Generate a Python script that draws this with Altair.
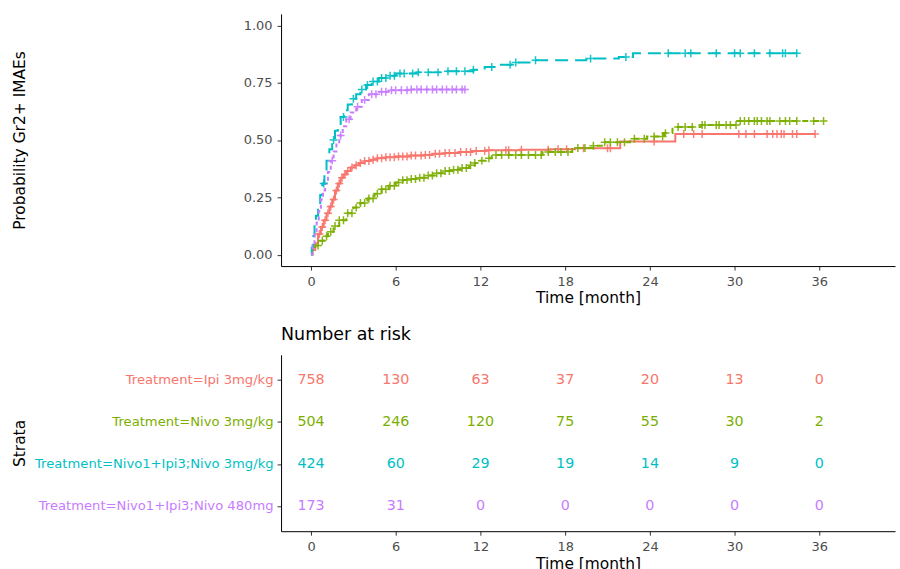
import altair as alt
import numpy as np
import pandas as pd

# Treatment groups, in plotting / table order
strata = [
    "Treatment=Ipi 3mg/kg",
    "Treatment=Nivo 3mg/kg",
    "Treatment=Nivo1+Ipi3;Nivo 3mg/kg",
    "Treatment=Nivo1+Ipi3;Nivo 480mg",
]
colors = ["#F8766D", "#7CAE00", "#00BFC4", "#C77CFF"]
dashes = [[1, 0], [6, 5], [13, 7], [4, 3]]

# Cumulative incidence steps (month, probability) per group
ipi_t = [0, 0.1, 0.3, 0.5, 0.7, 0.9, 1.1, 1.3, 1.5, 1.7, 1.9, 2.1, 2.3, 2.5, 2.8, 3.1, 3.4,
         3.8, 4.2, 4.7, 5.3, 6.0, 7.0, 8.0, 8.6, 9.5, 10.5, 11.4, 12.4, 14.8, 16.9, 18.7, 21.9, 25.8]
ipi_p = [0, 0.02, 0.05, 0.09, 0.12, 0.15, 0.18, 0.21, 0.24, 0.28, 0.31, 0.335, 0.35, 0.365, 0.38,
         0.39, 0.40, 0.408, 0.414, 0.42, 0.425, 0.428, 0.432, 0.435, 0.44, 0.443, 0.448, 0.452,
         0.455, 0.457, 0.46, 0.464, 0.493, 0.526]

nivo_t = [0, 0.1, 0.3, 0.6, 0.9, 1.2, 1.6, 2.0, 2.5, 3.0, 3.5, 4.0, 4.5, 5.0, 5.5, 6.0, 6.5, 7.0,
          7.6, 8.2, 8.8, 9.4, 10.0, 10.6, 11.2, 11.6, 12.0, 12.4, 12.8, 16.4, 18.5, 20.0, 20.6,
          22.6, 23.8, 25.0, 25.6, 27.6, 30.2]
nivo_p = [0, 0.02, 0.04, 0.06, 0.08, 0.10, 0.125, 0.15, 0.18, 0.205, 0.225, 0.245, 0.265, 0.285,
          0.30, 0.315, 0.325, 0.33, 0.335, 0.345, 0.355, 0.365, 0.37, 0.378, 0.39, 0.40, 0.41,
          0.42, 0.435, 0.448, 0.465, 0.475, 0.49, 0.505, 0.515, 0.53, 0.557, 0.565, 0.583]

combo3_t = [0, 0.05, 0.15, 0.25, 0.35, 0.5, 0.65, 0.8, 0.95, 1.1, 1.3, 1.5, 1.7, 1.9, 2.1, 2.35,
            2.6, 2.9, 3.2, 3.5, 3.9, 4.3, 4.8, 5.4, 6.0, 7.5, 9.5, 11.5, 12.3, 13.2, 14.2, 15.8,
            19.5, 21.8, 22.8]
combo3_p = [0, 0.03, 0.08, 0.13, 0.17, 0.22, 0.26, 0.31, 0.36, 0.41, 0.46, 0.50, 0.54, 0.57,
            0.60, 0.63, 0.655, 0.68, 0.70, 0.72, 0.74, 0.755, 0.77, 0.78, 0.79, 0.795, 0.80,
            0.806, 0.818, 0.828, 0.838, 0.848, 0.855, 0.862, 0.878]

combo480_t = [0, 0.1, 0.25, 0.4, 0.55, 0.7, 0.85, 1.0, 1.2, 1.4, 1.6, 1.8, 2.0, 2.25, 2.5, 2.8,
              3.2, 3.6, 4.1, 4.8, 5.6, 7.0]
combo480_p = [0, 0.04, 0.09, 0.14, 0.19, 0.24, 0.28, 0.31, 0.36, 0.41, 0.45, 0.49, 0.52, 0.56,
              0.59, 0.62, 0.645, 0.675, 0.70, 0.71, 0.717, 0.72]

# Censoring times (month) per group
ipi_cens = [0.6, 0.8, 1.0, 1.2, 1.4, 1.6, 1.8, 2.0, 2.2, 2.4, 2.6, 2.9, 3.2, 3.5, 3.8, 4.1, 4.4,
            4.7, 5.0, 5.3, 5.6, 5.9, 6.2, 6.5, 6.8, 7.1, 7.4, 7.8, 8.1, 8.4, 8.8, 9.1, 9.5, 9.8,
            10.2, 10.6, 11.0, 11.3, 11.7, 12.3, 12.6, 13.8, 14.0, 14.9, 16.8, 17.5, 18.1, 19.3,
            21.0, 21.2, 24.3, 26.4, 27.1, 27.7, 30.3, 30.8, 31.4, 32.3, 32.7, 33.0, 33.3, 33.5,
            34.1, 34.4, 35.7]
nivo_cens = [0.5, 0.8, 1.1, 1.4, 1.7, 2.0, 2.3, 2.6, 2.9, 3.2, 3.5, 3.8, 4.1, 4.4, 4.7, 5.0, 5.3,
             5.6, 5.9, 6.2, 6.5, 6.8, 7.1, 7.4, 7.7, 8.0, 8.3, 8.6, 8.9, 9.2, 9.5, 9.8, 10.1,
             10.4, 10.7, 11.0, 11.3, 11.6, 12.1, 12.6, 13.1, 13.5, 14.0, 14.5, 14.9, 15.4, 15.9,
             16.3, 16.8, 17.3, 17.7, 18.2, 18.9, 19.4, 20.0, 20.8, 21.2, 21.7, 22.2, 22.9, 23.6,
             24.3, 24.9, 25.1, 26.0, 26.5, 27.0, 27.7, 27.9, 28.7, 28.9, 29.4, 29.7, 30.1, 30.4,
             30.7, 31.0, 31.4, 31.6, 31.9, 32.3, 32.5, 33.2, 33.6, 33.9, 34.4, 35.6, 36.3]
combo3_cens = [0.9, 1.6, 2.3, 3.0, 3.6, 4.0, 4.4, 4.7, 5.0, 5.3, 5.6, 5.9, 6.3, 6.6, 7.2, 7.6, 8.3,
               9.0, 9.7, 10.3, 10.9, 11.5, 12.8, 14.1, 14.5, 15.9, 19.8, 22.3, 25.3, 26.5, 26.9,
               28.7, 30.0, 30.4, 31.4, 32.5, 33.4, 33.6, 34.4]
combo480_cens = [1.5, 2.1, 2.7, 3.3, 3.8, 4.3, 4.6, 5.0, 5.3, 5.7, 6.0, 6.4, 6.8, 7.1, 7.5, 7.8,
                 8.2, 8.6, 8.9, 9.3, 9.6, 10.0, 10.3, 10.7, 10.9]

# Number at risk table
risk_times = [0, 6, 12, 18, 24, 30, 36]
ipi_risk = [758, 130, 63, 37, 20, 13, 0]
nivo_risk = [504, 246, 120, 75, 55, 30, 2]
combo3_risk = [424, 60, 29, 19, 14, 9, 0]
combo480_risk = [173, 31, 0, 0, 0, 0, 0]

steps = [(ipi_t, ipi_p), (nivo_t, nivo_p), (combo3_t, combo3_p), (combo480_t, combo480_p)]
censors = [ipi_cens, nivo_cens, combo3_cens, combo480_cens]
risks = [ipi_risk, nivo_risk, combo3_risk, combo480_risk]

line_rows, cens_rows, risk_rows = [], [], []
for i, (name, (t, p), c, r) in enumerate(zip(strata, steps, censors, risks)):
    t_arr, p_arr = np.array(t), np.array(p)
    for tt, pp in zip(t, p):
        line_rows.append({"strata": name, "order": i, "time": tt, "prob": pp})
    # carry the last level out to the end of follow-up
    line_rows.append({"strata": name, "order": i, "time": max(c), "prob": p[-1]})
    for tc in c:
        level = p_arr[np.searchsorted(t_arr, tc, side="right") - 1]
        cens_rows.append({"strata": name, "order": i, "time": tc, "prob": float(level)})
    for tt, n in zip(risk_times, r):
        risk_rows.append({"strata": name, "time": tt, "n": n})

lines_df = pd.DataFrame(line_rows)
cens_df = pd.DataFrame(cens_rows)
risk_df = pd.DataFrame(risk_rows)

x_dom = [-2.12, 41.36]
x_ticks = [0, 6, 12, 18, 24, 30, 36]
color_scale = alt.Scale(domain=strata, range=colors)

x_axis = alt.Axis(values=x_ticks, title="Time [month]", grid=False, titlePadding=3)

base = alt.Chart(lines_df)
curves = base.mark_line(interpolate="step-after", strokeWidth=2, clip=True).encode(
    x=alt.X("time:Q", scale=alt.Scale(domain=x_dom, nice=False, zero=False), axis=x_axis),
    y=alt.Y("prob:Q", scale=alt.Scale(domain=[-0.05, 1.05], nice=False, zero=False),
            axis=alt.Axis(values=[0, 0.25, 0.5, 0.75, 1.0], format=".2f", grid=False,
                          title="Probability Gr2+ IMAEs", titleX=-262, titleAngle=270,
                          titleBaseline="middle")),
    color=alt.Color("strata:N", scale=color_scale, legend=None),
    strokeDash=alt.StrokeDash("strata:N", scale=alt.Scale(domain=strata, range=dashes), legend=None),
    detail="strata:N",
    order="order:Q",
)

marks = alt.Chart(cens_df).mark_point(
    shape="M-1,0L1,0M0,-1L0,1", filled=False, size=64, strokeWidth=1.5, opacity=0.9
).encode(
    x="time:Q",
    y="prob:Q",
    color=alt.Color("strata:N", scale=color_scale, legend=None),
)

top = alt.layer(curves, marks).properties(width=616, height=253)

label_color = {
    "condition": [{"test": f"datum.value === '{s}'", "value": c} for s, c in zip(strata, colors)],
    "value": "black",
}

table = alt.Chart(risk_df).mark_text(fontSize=14.3).encode(
    x=alt.X("time:Q", scale=alt.Scale(domain=x_dom, nice=False, zero=False), axis=x_axis),
    y=alt.Y("strata:N", scale=alt.Scale(domain=strata, type="point", padding=0.6),
            axis=alt.Axis(title="Strata", titleX=-262, titleAngle=270, titleBaseline="middle",
                          labelColor=label_color, labelFontSize=13.2, labelPadding=4,
                          labelLimit=400)),
    text="n:Q",
    color=alt.Color("strata:N", scale=color_scale, legend=None),
).properties(
    width=616,
    height=177,
    title=alt.TitleParams("Number at risk", anchor="start", frame="group", fontSize=17.5,
                          fontWeight="normal", color="black", baseline="bottom", offset=-7),
)

chart = alt.vconcat(top, table, spacing=19).properties(
    padding={"left": 13, "top": 13, "right": 5, "bottom": 5}
).configure(
    font="DejaVu Sans",
).configure_view(
    stroke=None,
).configure_axis(
    domainColor="black",
    domainWidth=1,
    tickColor="#333333",
    tickSize=4,
    labelPadding=5,
    labelFontSize=13,
    labelColor="#4D4D4D",
    titleFontSize=15.5,
    titleFontWeight="normal",
    titleColor="black",
)

chart.save("out.html", embed_options={"renderer": "svg", "actions": False})
